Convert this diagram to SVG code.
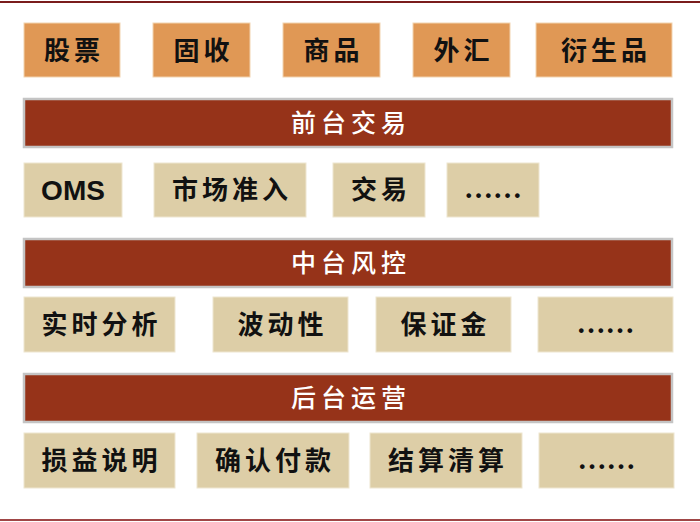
<svg xmlns="http://www.w3.org/2000/svg" width="700" height="522" viewBox="0 0 700 522">
<style>
.o{fill:#E09855;stroke:#F2D3B0;stroke-width:1}
.b{fill:#DDCEA7;stroke:#EEE6D0;stroke-width:1}
.bar{fill:#963319;stroke:#C4C4C4;stroke-width:2.5}
.t{font-family:"Noto Sans CJK SC","Noto Sans CJK JP",sans-serif;font-size:26px;font-weight:bold;fill:#111;text-anchor:middle;letter-spacing:4px}
.w{font-family:"Noto Sans CJK SC","Noto Sans CJK JP",sans-serif;font-size:25px;font-weight:500;fill:#fff;text-anchor:middle;letter-spacing:5px}
.e{font-family:"Liberation Sans",Arial,sans-serif;font-size:28px;font-weight:bold;fill:#111;text-anchor:middle}
.d{font-family:"Liberation Serif","Times New Roman",serif;font-size:29px;font-weight:bold;fill:#111;text-anchor:middle}
</style>
<rect x="0" y="0" width="700" height="522" fill="#fff"/>
<line x1="0" y1="2" x2="700" y2="2" stroke="#7A1C1C" stroke-width="2"/>
<line x1="0" y1="520" x2="700" y2="520" stroke="#A04646" stroke-width="2"/>
<g id="row1">
<g id="n-gupiao"><rect class="o" x="24" y="23" width="96" height="54"/><text class="t" x="74" y="60">股票</text></g>
<g id="n-gushou"><rect class="o" x="153" y="23" width="97" height="54"/><text class="t" x="203.5" y="60">固收</text></g>
<g id="n-shangpin"><rect class="o" x="283" y="23" width="97" height="54"/><text class="t" x="333.5" y="60">商品</text></g>
<g id="n-waihui"><rect class="o" x="413" y="23" width="97" height="54"/><text class="t" x="463.5" y="60">外汇</text></g>
<g id="n-yanshengpin"><rect class="o" x="536" y="23" width="136" height="54"/><text class="t" x="606" y="60">衍生品</text></g>
</g>
<g id="bar-front"><rect class="bar" x="24" y="99" width="648" height="48"/><text class="w" x="351" y="132">前台交易</text></g>
<g id="row2">
<g id="n-oms"><rect class="b" x="24" y="163" width="98" height="54"/><text class="e" x="73" y="200">OMS</text></g>
<g id="n-shichang"><rect class="b" x="154" y="163" width="152" height="54"/><text class="t" x="232" y="199">市场准入</text></g>
<g id="n-jiaoyi"><rect class="b" x="333" y="163" width="92" height="54"/><text class="t" x="381" y="199">交易</text></g>
<g id="n-dots1"><rect class="b" x="447" y="163" width="92" height="54"/><text class="d" x="493" y="198">……</text></g>
</g>
<g id="bar-middle"><rect class="bar" x="24" y="239" width="648" height="48"/><text class="w" x="351" y="272">中台风控</text></g>
<g id="row3">
<g id="n-shishi"><rect class="b" x="24" y="297" width="151" height="55"/><text class="t" x="101.5" y="334">实时分析</text></g>
<g id="n-bodong"><rect class="b" x="213" y="297" width="135" height="55"/><text class="t" x="282.5" y="334">波动性</text></g>
<g id="n-baozheng"><rect class="b" x="376" y="297" width="135" height="55"/><text class="t" x="445.5" y="334">保证金</text></g>
<g id="n-dots2"><rect class="b" x="538" y="297" width="135" height="55"/><text class="d" x="605.5" y="333">……</text></g>
</g>
<g id="bar-back"><rect class="bar" x="24" y="374" width="648" height="48"/><text class="w" x="351" y="407">后台运营</text></g>
<g id="row4">
<g id="n-sunyi"><rect class="b" x="24" y="433" width="151" height="55"/><text class="t" x="101.5" y="470">损益说明</text></g>
<g id="n-queren"><rect class="b" x="197" y="433" width="152" height="55"/><text class="t" x="275" y="470">确认付款</text></g>
<g id="n-jiesuan"><rect class="b" x="370" y="433" width="152" height="55"/><text class="t" x="448" y="470">结算清算</text></g>
<g id="n-dots3"><rect class="b" x="539" y="433" width="135" height="55"/><text class="d" x="606.5" y="469">……</text></g>
</g>
<g id="connectors"></g>
</svg>
